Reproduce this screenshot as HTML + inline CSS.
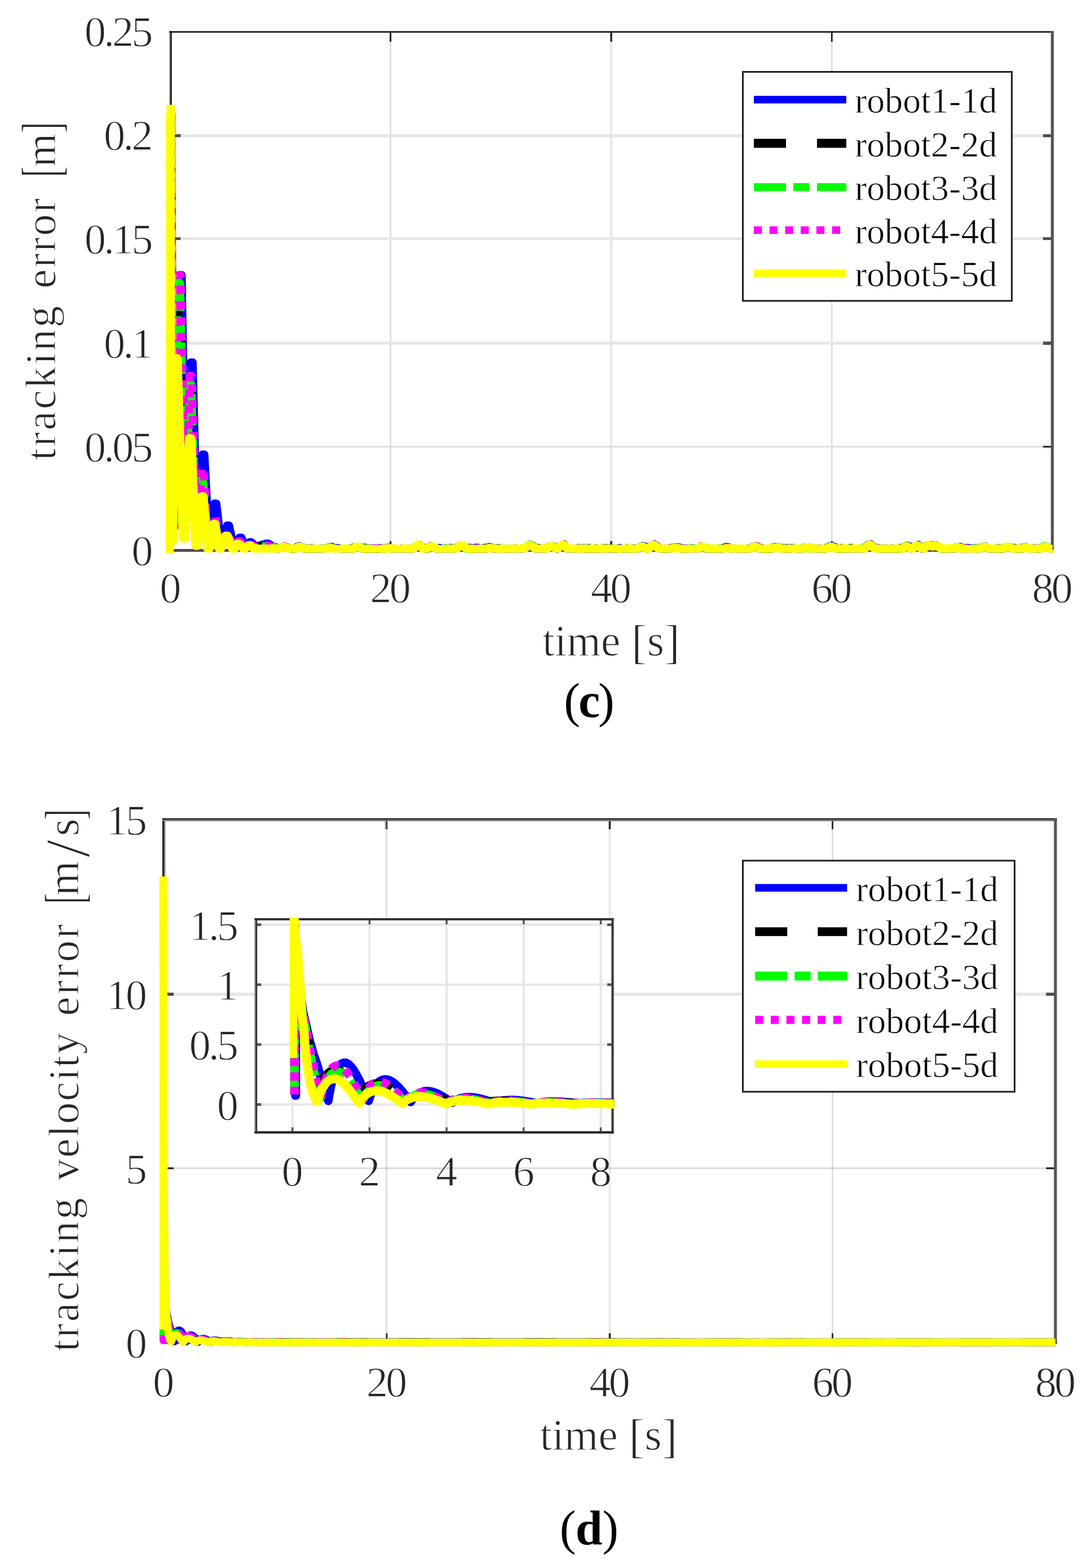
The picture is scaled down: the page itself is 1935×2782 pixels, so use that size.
<!DOCTYPE html>
<html lang="en"><head><meta charset="utf-8"><title>Tracking error figures</title>
<style>html,body{margin:0;padding:0;background:#fff}svg{display:block}</style></head>
<body>
<svg width="1935" height="2782" viewBox="0 0 1935 2782" font-family='"Liberation Serif", "DejaVu Serif", serif'>
<rect width="1935" height="2782" fill="#fff"/>
<g id="plot-c">
<line x1="692.6" y1="56.6" x2="692.6" y2="976.6" stroke="#dedede" stroke-width="3"/>
<line x1="1084" y1="56.6" x2="1084" y2="976.6" stroke="#e9e9e9" stroke-width="4.6"/>
<line x1="1475.3" y1="56.6" x2="1475.3" y2="976.6" stroke="#dedede" stroke-width="2.8"/>
<line x1="302.4" y1="792.6" x2="1866.4" y2="792.6" stroke="#dcdcdc" stroke-width="2.8"/>
<line x1="302.4" y1="608.9" x2="1866.4" y2="608.9" stroke="#e6e6e6" stroke-width="5.2"/>
<line x1="302.4" y1="423.4" x2="1866.4" y2="423.4" stroke="#e6e6e6" stroke-width="4.9"/>
<line x1="302.4" y1="240.8" x2="1866.4" y2="240.8" stroke="#e6e6e6" stroke-width="5.2"/>
<line x1="692.6" y1="56.6" x2="692.6" y2="74.1" stroke="#1a1a1a" stroke-width="3"/>
<line x1="692.6" y1="976.6" x2="692.6" y2="960.1" stroke="#1a1a1a" stroke-width="3"/>
<line x1="1084" y1="56.6" x2="1084" y2="74.1" stroke="#1a1a1a" stroke-width="3.2"/>
<line x1="1084" y1="976.6" x2="1084" y2="960.1" stroke="#1a1a1a" stroke-width="3.2"/>
<line x1="1475.3" y1="56.6" x2="1475.3" y2="74.1" stroke="#1a1a1a" stroke-width="2.8"/>
<line x1="1475.3" y1="976.6" x2="1475.3" y2="960.1" stroke="#1a1a1a" stroke-width="2.8"/>
<line x1="302.4" y1="792.6" x2="320.4" y2="792.6" stroke="#1a1a1a" stroke-width="2.8"/>
<line x1="1866.4" y1="792.6" x2="1849.9" y2="792.6" stroke="#1a1a1a" stroke-width="2.8"/>
<line x1="302.4" y1="608.9" x2="320.4" y2="608.9" stroke="#4d4d4d" stroke-width="5.8"/>
<line x1="1866.4" y1="608.9" x2="1849.9" y2="608.9" stroke="#4d4d4d" stroke-width="5.8"/>
<line x1="302.4" y1="423.4" x2="320.4" y2="423.4" stroke="#4d4d4d" stroke-width="4.9"/>
<line x1="1866.4" y1="423.4" x2="1849.9" y2="423.4" stroke="#4d4d4d" stroke-width="4.9"/>
<line x1="302.4" y1="240.8" x2="320.4" y2="240.8" stroke="#4d4d4d" stroke-width="5.3"/>
<line x1="1866.4" y1="240.8" x2="1849.9" y2="240.8" stroke="#4d4d4d" stroke-width="5.3"/>
<line x1="301" y1="55.2" x2="301" y2="979.1" stroke="#9a9a9a" stroke-width="2.0"/>
<line x1="303.4" y1="55.2" x2="303.4" y2="979.1" stroke="#1f1f1f" stroke-width="2.8"/>
<line x1="300" y1="56.6" x2="1869" y2="56.6" stroke="#1a1a1a" stroke-width="2.8"/>
<line x1="1866.4" y1="55.2" x2="1866.4" y2="979.2" stroke="#555" stroke-width="5.2"/>
<line x1="300" y1="976.6" x2="1869" y2="976.6" stroke="#4d4d4d" stroke-width="5.0"/>
<text x="302.4" y="1068.7" font-size="76.5" text-anchor="middle" fill="#262626" stroke="#fff" stroke-width="1.3">0</text>
<text x="690.6" y="1068.7" font-size="76.5" text-anchor="middle" fill="#262626" stroke="#fff" stroke-width="1.3" style="letter-spacing:-4px">20</text>
<text x="1082" y="1068.7" font-size="76.5" text-anchor="middle" fill="#262626" stroke="#fff" stroke-width="1.3" style="letter-spacing:-4px">40</text>
<text x="1473.3" y="1068.7" font-size="76.5" text-anchor="middle" fill="#262626" stroke="#fff" stroke-width="1.3" style="letter-spacing:-4px">60</text>
<text x="1864.4" y="1068.7" font-size="76.5" text-anchor="middle" fill="#262626" stroke="#fff" stroke-width="1.3" style="letter-spacing:-4px">80</text>
<text x="271.5" y="1002.5" font-size="76.5" text-anchor="end" fill="#262626" stroke="#fff" stroke-width="1.3">0</text>
<text x="267.5" y="818.5" font-size="76.5" text-anchor="end" fill="#262626" stroke="#fff" stroke-width="1.3" style="letter-spacing:-4px">0.05</text>
<text x="267.5" y="634.5" font-size="76.5" text-anchor="end" fill="#262626" stroke="#fff" stroke-width="1.3" style="letter-spacing:-4px">0.1</text>
<text x="267.5" y="450" font-size="76.5" text-anchor="end" fill="#262626" stroke="#fff" stroke-width="1.3" style="letter-spacing:-4px">0.15</text>
<text x="267.5" y="266.3" font-size="76.5" text-anchor="end" fill="#262626" stroke="#fff" stroke-width="1.3" style="letter-spacing:-4px">0.2</text>
<text x="267.5" y="82.1" font-size="76.5" text-anchor="end" fill="#262626" stroke="#fff" stroke-width="1.3" style="letter-spacing:-4px">0.25</text>
<text x="1084" y="1163" font-size="77.8" text-anchor="middle" fill="#262626" stroke="#fff" stroke-width="1.3">time <tspan font-size="84" dy="4.5">[</tspan><tspan font-size="77.8" dy="-4.5">s</tspan><tspan font-size="84" dy="4.5">]</tspan></text>
<text transform="translate(97.7,816.7) rotate(-90)" font-size="77" fill="#262626" stroke="#fff" stroke-width="1.3" textLength="274" lengthAdjust="spacing">tracking</text>
<text transform="translate(97.7,511.7) rotate(-90)" font-size="77" fill="#262626" stroke="#fff" stroke-width="1.3" textLength="160" lengthAdjust="spacing">error</text>
<text transform="translate(97.7,296.5) rotate(-90)" font-size="77" fill="#262626" stroke="#fff" stroke-width="1.3">m</text>
<text transform="translate(105.7,314.5) rotate(-90) scale(0.6,1)" font-size="97" fill="#262626" stroke="#fff" stroke-width="1.3">[</text>
<text transform="translate(105.7,236) rotate(-90) scale(0.6,1)" font-size="97" fill="#262626" stroke="#fff" stroke-width="1.3">]</text>
<text x="1043.5" y="1272" font-size="86" text-anchor="middle" fill="#000" letter-spacing="-3">(<tspan font-weight="bold">c</tspan>)</text>
<defs><clipPath id="cc"><rect x="293.4" y="54.6" width="1575.5" height="926"/></clipPath></defs>
<path d="M303 205 L308.9 932 L312.1 932 L318.9 488 L322.1 488 L329.4 912 L332.6 912 L338.4 643 L341.6 643 L349.4 945 L352.6 945 L359.2 806.5 L362.4 806.5 L370.4 958 L373.6 958 L380.4 893.5 L383.6 893.5 L391.9 965 L395.1 965 L402.9 932.5 L406.1 932.5 L414.4 969 L417.6 969 L424.9 954 L428.1 954 L434.4 969 L437.6 969 L442.4 962 L445.6 962 L453.4 969 L456.6 969 L472.4 964.5 L475.6 964.5 L484.4 970 L487.6 970 L492 973.9 L496 973 L500 970.9 L504 970.2 L508 970.3 L512 972.5 L516 973.4 L520 974.1 L524 972.6 L528 969.4 L532 969.6 L536 971.7 L540 972.4 L544 973.2 L548 974.6 L552 973 L556 972.8 L560 973.5 L564 974.5 L568 973.5 L572 973.7 L576 973.1 L580 972.7 L584 971.1 L588 970.3 L592 972.2 L596 972.6 L600 972.6 L604 973.1 L608 974.4 L612 973.5 L616 974.6 L620 973 L624 973 L628 970.9 L632 970.7 L636 971.2 L640 971 L644 972.3 L648 971.8 L652 974 L656 973.1 L660 972.9 L664 973.5 L668 973.5 L672 973.1 L676 972.4 L680 973.6 L684 972.7 L688 972 L692 971.4 L696 974.2 L700 974.9 L704 974.8 L708 975.1 L712 973.5 L716 973.5 L720 973.4 L724 974.5 L728 974 L732 973.6 L736 971.3 L740 968 L744 966.5 L748 971 L752 971.7 L756 973.7 L760 971.7 L764 969.9 L768 971 L772 972 L776 973.5 L780 972.1 L784 973.8 L788 973.1 L792 973 L796 973.1 L800 972 L804 973.9 L808 972.4 L812 971.4 L816 968.2 L820 968.3 L824 970.5 L828 972.3 L832 972 L836 972.7 L840 972.8 L844 971.8 L848 972 L852 973.6 L856 973 L860 971.9 L864 972.2 L868 970.6 L872 971.6 L876 973 L880 973 L884 972.8 L888 972.9 L892 973.2 L896 973.7 L900 974.4 L904 973.9 L908 973.9 L912 972.7 L916 972.9 L920 974 L924 973 L928 973.7 L932 972.5 L936 967.9 L940 966.4 L944 967.4 L948 971.4 L952 972.2 L956 972.3 L960 974 L964 973.2 L968 973.7 L972 971 L976 969.4 L980 968.9 L984 970.4 L988 973.5 L992 970.2 L996 967.4 L1000 966.6 L1004 970.3 L1008 974.6 L1012 973.4 L1016 974.3 L1020 973.9 L1024 972.6 L1028 972.7 L1032 973.7 L1036 972.3 L1040 974.3 L1044 972.2 L1048 973.6 L1052 973.8 L1056 972.7 L1060 973.4 L1064 973.8 L1068 973 L1072 972.6 L1076 972.7 L1080 973.5 L1084 973.7 L1088 972.8 L1092 974.2 L1096 972.8 L1100 972.5 L1104 973.6 L1108 974.4 L1112 972.6 L1116 974.6 L1120 972.9 L1124 973.7 L1128 973 L1132 973.7 L1136 969.9 L1140 968.7 L1144 969.6 L1148 972.1 L1152 970.5 L1156 968.8 L1160 965.9 L1164 968 L1168 971.7 L1172 972.9 L1176 974.2 L1180 972.9 L1184 973.8 L1188 972.7 L1192 971.9 L1196 971.6 L1200 971.2 L1204 971.2 L1208 972.6 L1212 973 L1216 973.3 L1220 974.2 L1224 972.8 L1228 972.9 L1232 974 L1236 973.4 L1240 972.8 L1244 969.1 L1248 970.6 L1252 972.5 L1256 972.7 L1260 974.1 L1264 974.7 L1268 973.9 L1272 973.4 L1276 974.1 L1280 974.1 L1284 972.3 L1288 970.9 L1292 971.6 L1296 972.6 L1300 973.9 L1304 973 L1308 974.2 L1312 974.3 L1316 974.4 L1320 974.3 L1324 974 L1328 973.4 L1332 972.2 L1336 970.1 L1340 969 L1344 969.8 L1348 973.7 L1352 972.7 L1356 974.1 L1360 974 L1364 974.6 L1368 974.2 L1372 971.3 L1376 970.2 L1380 971.1 L1384 972.3 L1388 972.4 L1392 972.6 L1396 972.5 L1400 973.3 L1404 972.3 L1408 972.7 L1412 973.1 L1416 974 L1420 974.5 L1424 972.3 L1428 971.9 L1432 972.3 L1436 971.5 L1440 973.3 L1444 972.9 L1448 973 L1452 974.1 L1456 973.2 L1460 974 L1464 973.5 L1468 971.7 L1472 969.4 L1476 969 L1480 970.3 L1484 972.6 L1488 973.7 L1492 972.3 L1496 973.8 L1500 973.7 L1504 973.3 L1508 972.3 L1512 972.8 L1516 974.3 L1520 974 L1524 973.4 L1528 973.7 L1532 972.1 L1536 969.8 L1540 966.4 L1544 965.6 L1548 968.6 L1552 971.9 L1556 973.5 L1560 972.7 L1564 973.8 L1568 974 L1572 973.1 L1576 973.4 L1580 973.2 L1584 972.9 L1588 974.2 L1592 974.4 L1596 972.7 L1600 971.9 L1604 970.1 L1608 968.1 L1612 968.8 L1616 973.5 L1620 972 L1624 968.3 L1628 966.5 L1632 969.7 L1636 974.3 L1640 971.6 L1644 967.2 L1648 967.1 L1652 966.9 L1656 968.9 L1660 967.6 L1664 969.9 L1668 971.8 L1672 974.4 L1676 974.2 L1680 974.2 L1684 973.3 L1688 974.7 L1692 973.7 L1696 971.2 L1700 970.9 L1704 971.3 L1708 972.9 L1712 972.5 L1716 972.1 L1720 973 L1724 973.4 L1728 972.9 L1732 972.7 L1736 972.9 L1740 972 L1744 970.4 L1748 969.5 L1752 971.9 L1756 974.2 L1760 974.2 L1764 974.8 L1768 974 L1772 972.7 L1776 974.2 L1780 972.1 L1784 970.8 L1788 970.6 L1792 970.9 L1796 972 L1800 972.2 L1804 973.2 L1808 974.4 L1812 971.9 L1816 972 L1820 970.7 L1824 972.7 L1828 973.4 L1832 973.3 L1836 972.8 L1840 973.9 L1844 973 L1848 971.8 L1852 969.4 L1856 970 L1860 971.7 L1864 972.6 L1866.4 972.8" fill="none" stroke="#0000ff" stroke-width="14.5" stroke-linejoin="round" stroke-linecap="butt" clip-path="url(#cc)"/>
<path d="M303 205 L307.1 932 L310.4 932 L315.4 518 L318.6 518 L327.6 912 L330.9 912 L334.9 691 L338.1 691 L347.6 945 L350.9 945 L355.7 854.5 L358.9 854.5 L368.6 958 L371.9 958 L376.9 941.5 L380.1 941.5 L390.1 965 L393.4 965 L399.4 958 L402.6 958 L412.6 969 L415.9 969 L421.4 966.6 L424.6 966.6 L432.6 969 L435.9 969 L438.9 969.8 L442.1 969.8 L451.6 969 L454.9 969 L468.9 970.8 L472.1 970.8 L482.6 970 L485.9 970 L492 972.9 L496 973.5 L500 971.1 L504 969.9 L508 970.7 L512 973.4 L516 973.7 L520 973.9 L524 972.9 L528 970.1 L532 969.3 L536 971 L540 973.9 L544 973.2 L548 974.8 L552 973.1 L556 973.4 L560 973.4 L564 975.1 L568 974.8 L572 975.1 L576 973.6 L580 971.7 L584 971.3 L588 971.7 L592 971.8 L596 974.9 L600 973.7 L604 973.5 L608 975.1 L612 973.7 L616 975.5 L620 974.1 L624 974.4 L628 972.1 L632 970.8 L636 970.4 L640 971.2 L644 974.1 L648 972.8 L652 974.7 L656 973.4 L660 975 L664 974.5 L668 974.3 L672 974.3 L676 973.8 L680 974.3 L684 972.4 L688 972.5 L692 973.2 L696 973.2 L700 975.5 L704 975.7 L708 974.4 L712 973.6 L716 974.2 L720 974.4 L724 975.8 L728 974.2 L732 973.3 L736 970 L740 968.2 L744 968.7 L748 970.8 L752 973.2 L756 974 L760 973.1 L764 969.4 L768 970.8 L772 972.6 L776 973.7 L780 972.8 L784 973.3 L788 974.1 L792 974.5 L796 973.6 L800 973.5 L804 973.5 L808 972.9 L812 971.5 L816 970.2 L820 969 L824 971.2 L828 974 L832 973.8 L836 974.6 L840 974.2 L844 973 L848 974.4 L852 974.7 L856 973.6 L860 973.8 L864 973.1 L868 971.6 L872 972 L876 974.5 L880 973.4 L884 973.1 L888 974.6 L892 974.6 L896 974.1 L900 974.8 L904 973.2 L908 974.1 L912 973.8 L916 973.8 L920 973.5 L924 972.9 L928 973.2 L932 973 L936 969.8 L940 967.7 L944 968.2 L948 971 L952 974.4 L956 973.3 L960 974.2 L964 973 L968 972.7 L972 972.3 L976 969.8 L980 970.2 L984 971.9 L988 973.7 L992 971.4 L996 967.8 L1000 966.4 L1004 970.8 L1008 973.8 L1012 974.4 L1016 972.8 L1020 974.3 L1024 974.6 L1028 972.7 L1032 973.7 L1036 973.9 L1040 974.6 L1044 973.8 L1048 973.1 L1052 973.9 L1056 974.3 L1060 974.6 L1064 973.4 L1068 973 L1072 972.7 L1076 973.1 L1080 973.6 L1084 972.7 L1088 974.3 L1092 974.3 L1096 972.7 L1100 973.5 L1104 973.1 L1108 974.1 L1112 973.4 L1116 973.7 L1120 973.1 L1124 973.4 L1128 974.4 L1132 973.3 L1136 969.9 L1140 970.2 L1144 971.8 L1148 973.9 L1152 972.4 L1156 967.6 L1160 967.3 L1164 968.4 L1168 973.2 L1172 973.4 L1176 974.6 L1180 973.9 L1184 974.4 L1188 973.1 L1192 972.2 L1196 972.4 L1200 971.3 L1204 973 L1208 972.9 L1212 973.7 L1216 973.8 L1220 975.2 L1224 972.9 L1228 973.4 L1232 974.1 L1236 974.8 L1240 973.7 L1244 970.1 L1248 971.5 L1252 973.3 L1256 974.1 L1260 973.4 L1264 975.1 L1268 975.3 L1272 973.9 L1276 973.4 L1280 974.6 L1284 971.8 L1288 970.5 L1292 970.9 L1296 973.3 L1300 974.6 L1304 973.3 L1308 974.4 L1312 973.3 L1316 974.9 L1320 974.6 L1324 974.8 L1328 974.2 L1332 972.5 L1336 970.4 L1340 968.7 L1344 970.8 L1348 972.9 L1352 974.3 L1356 974.4 L1360 974.8 L1364 974.2 L1368 973.4 L1372 972.2 L1376 971.2 L1380 970.9 L1384 973.4 L1388 972.9 L1392 973.5 L1396 973.7 L1400 974.6 L1404 974.4 L1408 974.7 L1412 974.8 L1416 975.1 L1420 974.9 L1424 973.5 L1428 972.5 L1432 972.9 L1436 972.2 L1440 974.3 L1444 973.2 L1448 973.9 L1452 974.4 L1456 974.7 L1460 975.1 L1464 972.4 L1468 971.9 L1472 970.2 L1476 969.9 L1480 970.5 L1484 973.9 L1488 973.5 L1492 973.2 L1496 974.7 L1500 974.1 L1504 973.5 L1508 972.8 L1512 974.8 L1516 974.4 L1520 973.2 L1524 973.1 L1528 973.8 L1532 973.6 L1536 970.3 L1540 967.9 L1544 965.8 L1548 968.9 L1552 973.6 L1556 972.7 L1560 974.1 L1564 973.6 L1568 974.1 L1572 973.8 L1576 974 L1580 974.9 L1584 973.7 L1588 973.7 L1592 974.3 L1596 973.5 L1600 972.6 L1604 970.2 L1608 968.2 L1612 969.6 L1616 974.1 L1620 970.8 L1624 969.3 L1628 968.7 L1632 971.2 L1636 973.2 L1640 971.8 L1644 966.9 L1648 966.9 L1652 968.7 L1656 968.5 L1660 966.4 L1664 969.9 L1668 972.3 L1672 974.1 L1676 974.5 L1680 975.2 L1684 974.2 L1688 973.5 L1692 973.8 L1696 973.1 L1700 971.3 L1704 970.8 L1708 972.9 L1712 973.1 L1716 973.2 L1720 972.5 L1724 974.5 L1728 974.2 L1732 974 L1736 974.6 L1740 970.8 L1744 970.6 L1748 969.7 L1752 973.5 L1756 975.1 L1760 974.9 L1764 973.9 L1768 972.8 L1772 974.7 L1776 974.2 L1780 973.9 L1784 971.1 L1788 971.1 L1792 971.7 L1796 972.6 L1800 973.3 L1804 973.4 L1808 974.5 L1812 974.2 L1816 971.2 L1820 970.5 L1824 972.4 L1828 974.2 L1832 973.3 L1836 973.3 L1840 972.8 L1844 972.6 L1848 971.9 L1852 970 L1856 970.2 L1860 971.9 L1864 973.1 L1866.4 974.8" fill="none" stroke="#000000" stroke-width="14.5" stroke-linejoin="round" stroke-linecap="butt" stroke-dasharray="56 55" stroke-dashoffset="30" clip-path="url(#cc)"/>
<path d="M303 205 L307.4 932 L310.6 932 L315.9 502 L319.1 502 L327.9 912 L331.1 912 L335.4 681 L338.6 681 L347.9 945 L351.1 945 L356.2 844.5 L359.4 844.5 L368.9 958 L372.1 958 L377.4 931.5 L380.6 931.5 L390.4 965 L393.6 965 L399.9 952.7 L403.1 952.7 L412.9 969 L416.1 969 L421.9 964 L425.1 964 L432.9 969 L436.1 969 L439.4 968.2 L442.6 968.2 L451.9 969 L455.1 969 L469.4 969.5 L472.6 969.5 L482.9 970 L486.1 970 L492 974.5 L496 972.4 L500 969.9 L504 970.9 L508 970.6 L512 972 L516 973.4 L520 973.6 L524 973.7 L528 970.1 L532 971.2 L536 970.9 L540 973.9 L544 975 L548 974.5 L552 974.5 L556 974.3 L560 973.4 L564 974.9 L568 974.5 L572 973.9 L576 972.8 L580 973.3 L584 971.8 L588 972.6 L592 973.1 L596 974.9 L600 974.1 L604 974.6 L608 974.7 L612 974 L616 975.6 L620 973.8 L624 974.9 L628 973.3 L632 971.1 L636 970.3 L640 972.7 L644 973.7 L648 972.7 L652 973.3 L656 974 L660 973.1 L664 974.6 L668 973.8 L672 973.8 L676 973.5 L680 974.2 L684 974 L688 972.2 L692 972.3 L696 974 L700 974.3 L704 975.1 L708 974.7 L712 973.7 L716 974.7 L720 974.7 L724 973.9 L728 975.4 L732 974 L736 970.7 L740 967.6 L744 968.6 L748 971.7 L752 973.2 L756 973.7 L760 971.8 L764 970.7 L768 970 L772 972.5 L776 973.2 L780 973.1 L784 973.7 L788 973.8 L792 972.7 L796 974 L800 973.9 L804 974.2 L808 973.1 L812 972.7 L816 968.7 L820 968.3 L824 972.1 L828 974.5 L832 973.4 L836 974.5 L840 973.3 L844 973.3 L848 973.6 L852 974.8 L856 973.9 L860 973 L864 973.5 L868 972.1 L872 972.2 L876 974.3 L880 974.7 L884 974.2 L888 974.8 L892 973.1 L896 974.1 L900 974.3 L904 973.8 L908 973.9 L912 974.6 L916 973.9 L920 973.7 L924 972.8 L928 974.4 L932 971.9 L936 968.1 L940 966.6 L944 967.8 L948 972.3 L952 972.8 L956 972.8 L960 972.9 L964 973.9 L968 972.7 L972 971.4 L976 969.7 L980 970.3 L984 972.3 L988 972.9 L992 971 L996 967.8 L1000 965.8 L1004 970.2 L1008 974.2 L1012 973.6 L1016 974.3 L1020 974.4 L1024 973.6 L1028 973.1 L1032 973 L1036 973.1 L1040 973 L1044 974 L1048 972.9 L1052 974.9 L1056 973.7 L1060 972.9 L1064 974.1 L1068 974 L1072 972.6 L1076 974 L1080 972.7 L1084 973.9 L1088 972.6 L1092 974.2 L1096 974.4 L1100 974.2 L1104 973 L1108 974.2 L1112 973.2 L1116 974 L1120 974.4 L1124 974.3 L1128 973 L1132 973 L1136 971.1 L1140 969.1 L1144 971.6 L1148 974.1 L1152 971.9 L1156 968.4 L1160 968.1 L1164 969.3 L1168 972.1 L1172 973.7 L1176 973.5 L1180 975.1 L1184 974 L1188 973.9 L1192 973.7 L1196 973.6 L1200 971.1 L1204 972 L1208 974.1 L1212 974.2 L1216 973.5 L1220 974.6 L1224 973.1 L1228 972.5 L1232 973.2 L1236 974 L1240 972.3 L1244 970.5 L1248 972 L1252 972.6 L1256 974.1 L1260 975 L1264 974.7 L1268 974.4 L1272 974.7 L1276 972.8 L1280 974.5 L1284 973 L1288 971.9 L1292 972.4 L1296 971.9 L1300 973.2 L1304 972.8 L1308 974.2 L1312 975.1 L1316 975.4 L1320 974.5 L1324 975 L1328 974.9 L1332 972.3 L1336 971.9 L1340 970.5 L1344 971.4 L1348 974.2 L1352 974.5 L1356 974.1 L1360 974 L1364 973.8 L1368 973.4 L1372 971.6 L1376 972 L1380 970.2 L1384 971.5 L1388 973.4 L1392 972.8 L1396 973.7 L1400 973.9 L1404 973 L1408 974.1 L1412 974.4 L1416 974.3 L1420 975.2 L1424 972.4 L1428 972.2 L1432 973.3 L1436 973.6 L1440 973.2 L1444 972.5 L1448 974.6 L1452 973.7 L1456 973.2 L1460 973.4 L1464 972.9 L1468 971.9 L1472 969.9 L1476 969.2 L1480 972.2 L1484 974.4 L1488 973.6 L1492 973.6 L1496 974.4 L1500 973.6 L1504 972.7 L1508 973.2 L1512 973.7 L1516 974.8 L1520 973.9 L1524 973.4 L1528 973.7 L1532 972.3 L1536 971.1 L1540 967.6 L1544 966.5 L1548 969.1 L1552 972.5 L1556 972.4 L1560 972.9 L1564 973.5 L1568 973.8 L1572 974.8 L1576 973.7 L1580 973.9 L1584 974.1 L1588 974.1 L1592 973.2 L1596 974.8 L1600 973.4 L1604 970 L1608 968.1 L1612 970.6 L1616 974.1 L1620 971.4 L1624 968.4 L1628 967.9 L1632 970.2 L1636 973.9 L1640 972.6 L1644 968 L1648 967.3 L1652 967.9 L1656 969.7 L1660 968 L1664 969.2 L1668 973.2 L1672 974.9 L1676 974.7 L1680 974.6 L1684 973.9 L1688 974.4 L1692 973 L1696 973 L1700 971 L1704 972.7 L1708 973.7 L1712 972.8 L1716 973 L1720 972.3 L1724 974.4 L1728 972.6 L1732 973.4 L1736 973.5 L1740 972.3 L1744 969.7 L1748 970.9 L1752 973.2 L1756 974.1 L1760 973.7 L1764 974.3 L1768 973.9 L1772 973.6 L1776 973 L1780 973.5 L1784 971.7 L1788 969.9 L1792 972.9 L1796 973.1 L1800 972.9 L1804 973 L1808 974 L1812 973.4 L1816 971.4 L1820 970.5 L1824 972.4 L1828 973.3 L1832 973.8 L1836 973.6 L1840 974.1 L1844 973.7 L1848 971.4 L1852 969 L1856 970.6 L1860 971.7 L1864 973.2 L1866.4 973" fill="none" stroke="#00ff00" stroke-width="14.5" stroke-linejoin="round" stroke-linecap="butt" stroke-dasharray="56 14 28 14" stroke-dashoffset="75" clip-path="url(#cc)"/>
<path d="M303 205 L307.9 932 L311.1 932 L316.9 488 L320.1 488 L328.4 912 L331.6 912 L336.4 667 L339.6 667 L348.4 945 L351.6 945 L357.2 830.5 L360.4 830.5 L369.4 958 L372.6 958 L378.4 917.5 L381.6 917.5 L390.9 965 L394.1 965 L400.9 945.2 L404.1 945.2 L413.4 969 L416.6 969 L422.9 960.3 L426.1 960.3 L433.4 969 L436.6 969 L440.4 965.9 L443.6 965.9 L452.4 969 L455.6 969 L470.4 967.6 L473.6 967.6 L483.4 970 L486.6 970 L492 974.4 L496 974 L500 971.6 L504 969.1 L508 971.4 L512 972.6 L516 973.2 L520 973.2 L524 972.3 L528 970.5 L532 969.7 L536 971.1 L540 972.7 L544 973.3 L548 974.6 L552 973.5 L556 973.9 L560 974.8 L564 973.9 L568 973.4 L572 974.9 L576 973.6 L580 972.9 L584 971.9 L588 972.6 L592 972.3 L596 974.5 L600 973.7 L604 974.3 L608 974.8 L612 974.1 L616 973.9 L620 974.1 L624 974.7 L628 972.5 L632 970.7 L636 971.3 L640 971.4 L644 972.7 L648 973 L652 974.8 L656 973.3 L660 973.3 L664 972.9 L668 972.9 L672 973.3 L676 973.8 L680 974.5 L684 972.8 L688 972.3 L692 972.1 L696 973.4 L700 975.2 L704 975 L708 974.1 L712 973.1 L716 974.9 L720 975.1 L724 975.4 L728 973.9 L732 974.4 L736 971.6 L740 968 L744 968.6 L748 970.1 L752 974.1 L756 973 L760 972.4 L764 969 L768 971.2 L772 972.8 L776 974.4 L780 974.1 L784 974.9 L788 974.5 L792 974.6 L796 974.4 L800 973 L804 974.8 L808 973.4 L812 971.7 L816 968.7 L820 968.4 L824 970.8 L828 974.5 L832 974.4 L836 973.2 L840 972.5 L844 973.3 L848 972.8 L852 973.9 L856 974.1 L860 972.6 L864 972.9 L868 972.7 L872 972.4 L876 973.4 L880 974.8 L884 974.6 L888 974.7 L892 974.5 L896 973.9 L900 974.5 L904 974.8 L908 974.8 L912 973.7 L916 973.6 L920 974 L924 974.3 L928 973.6 L932 972.3 L936 969.5 L940 966.4 L944 968.5 L948 971.2 L952 973.6 L956 974 L960 973.2 L964 974.9 L968 972.5 L972 971.8 L976 969.3 L980 968.9 L984 971.8 L988 973.8 L992 971.2 L996 967.5 L1000 965.7 L1004 970.5 L1008 974.8 L1012 973.1 L1016 974.6 L1020 973.4 L1024 974.1 L1028 973 L1032 973.4 L1036 973.4 L1040 973 L1044 974 L1048 973.6 L1052 974.5 L1056 973.5 L1060 973.9 L1064 974.2 L1068 973.4 L1072 974.3 L1076 973.2 L1080 974.4 L1084 974.1 L1088 973.6 L1092 974.5 L1096 973.8 L1100 973.7 L1104 973.1 L1108 973.7 L1112 973.6 L1116 973.9 L1120 974.6 L1124 973.3 L1128 973.7 L1132 973.1 L1136 971.4 L1140 969.7 L1144 971.1 L1148 972.8 L1152 971.4 L1156 967.8 L1160 966.8 L1164 968.8 L1168 973.4 L1172 974.1 L1176 973.4 L1180 974.3 L1184 973.2 L1188 973.6 L1192 973 L1196 973.3 L1200 971.2 L1204 972.9 L1208 972.8 L1212 974.6 L1216 974 L1220 973.4 L1224 974.3 L1228 972.7 L1232 973.8 L1236 973.6 L1240 973.5 L1244 969.6 L1248 971.5 L1252 973.1 L1256 974.3 L1260 973.8 L1264 973.6 L1268 975.2 L1272 974.5 L1276 973.1 L1280 974.6 L1284 973.4 L1288 970.7 L1292 970.8 L1296 972.9 L1300 973.3 L1304 973.9 L1308 974.1 L1312 974.7 L1316 974.7 L1320 975.3 L1324 975.4 L1328 974.6 L1332 972.8 L1336 970.6 L1340 968.9 L1344 970.1 L1348 974.1 L1352 973.3 L1356 973.7 L1360 974 L1364 974.5 L1368 974 L1372 973.2 L1376 971.1 L1380 970.4 L1384 972.7 L1388 974.2 L1392 974.4 L1396 973.4 L1400 975 L1404 974.6 L1408 975.1 L1412 973.8 L1416 974.3 L1420 975.1 L1424 973.5 L1428 971.2 L1432 972.3 L1436 973.2 L1440 973.9 L1444 973.5 L1448 973.1 L1452 973.5 L1456 972.9 L1460 973.8 L1464 973.3 L1468 972.9 L1472 970.8 L1476 969.9 L1480 970.7 L1484 973.4 L1488 974.7 L1492 973.5 L1496 973.1 L1500 974.3 L1504 973.7 L1508 974.5 L1512 974 L1516 974.2 L1520 973.6 L1524 973.7 L1528 974.3 L1532 974.2 L1536 971.1 L1540 966.9 L1544 965.3 L1548 970 L1552 972.7 L1556 973.2 L1560 972.9 L1564 973.2 L1568 973.7 L1572 975.2 L1576 974.7 L1580 974.4 L1584 974.1 L1588 973.4 L1592 973.5 L1596 974.1 L1600 972.4 L1604 970.6 L1608 968.7 L1612 970.4 L1616 972.5 L1620 970.9 L1624 968.6 L1628 967.1 L1632 971.1 L1636 973.7 L1640 972 L1644 968.4 L1648 966.9 L1652 968.4 L1656 968.4 L1660 967.1 L1664 970.8 L1668 972.7 L1672 974.1 L1676 974.5 L1680 974.5 L1684 975 L1688 973.8 L1692 974.2 L1696 971.5 L1700 971.9 L1704 971.9 L1708 974.3 L1712 972.6 L1716 973.5 L1720 973.9 L1724 974.3 L1728 972.8 L1732 974 L1736 974.8 L1740 971 L1744 971.1 L1748 969.7 L1752 971.9 L1756 975.2 L1760 974.8 L1764 975.4 L1768 973.9 L1772 974.1 L1776 973.6 L1780 973.8 L1784 972.1 L1788 970.8 L1792 972.8 L1796 972.5 L1800 974 L1804 974.3 L1808 973.4 L1812 974.1 L1816 971.4 L1820 970.8 L1824 971.5 L1828 974.1 L1832 973.2 L1836 974.7 L1840 972.7 L1844 974.2 L1848 972.5 L1852 969.7 L1856 970.1 L1860 973.2 L1864 974.2 L1866.4 973.2" fill="none" stroke="#ff00ff" stroke-width="14.5" stroke-linejoin="round" stroke-linecap="butt" stroke-dasharray="14 14" stroke-dashoffset="8" clip-path="url(#cc)"/>
<path d="M310.7 200 L311.7 628" fill="none" stroke="#ffa060" stroke-width="2.4" stroke-dasharray="13 13" clip-path="url(#cc)"/>
<path d="M301.0 982 L302.9 186" fill="none" stroke="#ffff00" stroke-width="14.4"/>
<path d="M302 200 L302.9 962 L306.1 962 L311.4 636 L314.6 636 L324.7 955 L327.9 955 L335.9 778 L339.1 778 L346.9 968 L350.1 968 L357.4 881 L360.6 881 L368.2 973 L371.4 973 L378.4 930 L381.6 930 L388.4 973 L391.6 973 L400.4 951 L403.6 951 L412.4 974 L415.6 974 L421.4 965 L424.6 965 L431.4 973 L434.6 973 L440.4 968 L443.6 968 L450.4 973 L453.6 973 L458 973.7 L462 973.9 L466 973.8 L470 974 L474 974.2 L478 973.6 L482 973.2 L486 974 L490 973.7 L494 973.5 L498 972.6 L502 970.5 L506 970.8 L510 972.5 L514 974.2 L518 973.7 L522 973.9 L526 972.7 L530 970.6 L534 970.7 L538 972.7 L542 973.6 L546 974.2 L550 974.2 L554 973.9 L558 973.4 L562 974.1 L566 974 L570 974.3 L574 974.6 L578 973.8 L582 972.7 L586 971.8 L590 973.1 L594 974 L598 974.6 L602 974.8 L606 973.9 L610 973.5 L614 973.4 L618 974.3 L622 974.1 L626 973.5 L630 971 L634 969.9 L638 971 L642 973 L646 974 L650 974.1 L654 974.5 L658 974.5 L662 974.8 L666 974.8 L670 975 L674 974.7 L678 973.9 L682 974.1 L686 973.3 L690 972.9 L694 973.1 L698 974.2 L702 973.9 L706 974.4 L710 974.3 L714 973.9 L718 973.4 L722 974.1 L726 974.7 L730 973.8 L734 973.1 L738 969.1 L742 966.6 L746 968.6 L750 972.9 L754 974.5 L758 972.8 L762 971 L766 969.5 L770 971.4 L774 973.3 L778 974.4 L782 974.8 L786 974.4 L790 974.8 L794 974.2 L798 973.6 L802 973.9 L806 973.4 L810 972.8 L814 970 L818 968 L822 968.7 L826 971.6 L830 974.1 L834 973.8 L838 974.5 L842 974.7 L846 974.2 L850 974.1 L854 974.1 L858 974.2 L862 973.9 L866 972.8 L870 972.2 L874 973.2 L878 974 L882 974.1 L886 974.3 L890 973.8 L894 973.7 L898 974.4 L902 974.2 L906 974.2 L910 973.5 L914 973.6 L918 973.9 L922 973.4 L926 973.8 L930 973.2 L934 969.8 L938 967.4 L942 967.5 L946 970.7 L950 972.8 L954 974.2 L958 974.4 L962 973.6 L966 973.3 L970 973 L974 970.9 L978 968.9 L982 970.4 L986 973.2 L990 972.6 L994 968.8 L998 966.6 L1002 968.7 L1006 972.7 L1010 973.7 L1014 973.7 L1018 974.2 L1022 973.5 L1026 973.8 L1030 974.2 L1034 973.9 L1038 973.6 L1042 974.2 L1046 973.8 L1050 973.5 L1054 973.7 L1058 974.1 L1062 973.6 L1066 973.6 L1070 973.6 L1074 974.2 L1078 974 L1082 974.4 L1086 973.8 L1090 973.7 L1094 974 L1098 974.5 L1102 974.2 L1106 973.8 L1110 973.4 L1114 973.7 L1118 973.5 L1122 974.1 L1126 974.5 L1130 973.5 L1134 971.4 L1138 970.3 L1142 971 L1146 973.3 L1150 973.7 L1154 970.1 L1158 966.9 L1162 968 L1166 971.3 L1170 973.7 L1174 973.8 L1178 973.8 L1182 973.8 L1186 974.4 L1190 973.7 L1194 972.4 L1198 972.3 L1202 972.7 L1206 974 L1210 974.3 L1214 974.7 L1218 974.9 L1222 974.1 L1226 974.3 L1230 974.6 L1234 974.5 L1238 973.4 L1242 970.8 L1246 969.8 L1250 970.9 L1254 972.7 L1258 973.7 L1262 973.6 L1266 974.2 L1270 973.5 L1274 974.3 L1278 974.4 L1282 974.3 L1286 973.4 L1290 972.9 L1294 973.1 L1298 973.3 L1302 974.1 L1306 973.7 L1310 973.6 L1314 974 L1318 974 L1322 973.9 L1326 974.5 L1330 974.2 L1334 972 L1338 969.9 L1342 970.8 L1346 972.7 L1350 974.4 L1354 974 L1358 973.6 L1362 973.9 L1366 974.3 L1370 973.4 L1374 972.1 L1378 971.2 L1382 971.9 L1386 973.8 L1390 973.8 L1394 974 L1398 974.5 L1402 973.7 L1406 973.6 L1410 973.5 L1414 973.8 L1418 973.8 L1422 973.5 L1426 972.9 L1430 971.5 L1434 971.8 L1438 972.8 L1442 973.1 L1446 973 L1450 974.1 L1454 974.5 L1458 973.7 L1462 973.9 L1466 973.5 L1470 971.9 L1474 970.7 L1478 971.5 L1482 973.2 L1486 973.9 L1490 973.6 L1494 973.6 L1498 973.3 L1502 973.7 L1506 974.1 L1510 973.9 L1514 973.5 L1518 973.3 L1522 973.5 L1526 973.9 L1530 974.3 L1534 973 L1538 969.2 L1542 966.4 L1546 967.9 L1550 972.1 L1554 973.9 L1558 974.2 L1562 974 L1566 974.2 L1570 974.1 L1574 973.7 L1578 973.9 L1582 974.2 L1586 973.6 L1590 973.7 L1594 973.8 L1598 974.2 L1602 972.5 L1606 969.6 L1610 970 L1614 972.5 L1618 973.5 L1622 970.5 L1626 967.7 L1630 969.2 L1634 972.5 L1638 974 L1642 970.1 L1646 966.7 L1650 967.8 L1654 969.4 L1658 968.2 L1662 968.4 L1666 970.8 L1670 973.1 L1674 974 L1678 973.4 L1682 973.2 L1686 973.1 L1690 974 L1694 972.8 L1698 971.4 L1702 972.2 L1706 972.7 L1710 974.2 L1714 974.3 L1718 974.6 L1722 974.8 L1726 974.5 L1730 974.6 L1734 973.7 L1738 973.5 L1742 971.3 L1746 970.3 L1750 970.9 L1754 973.5 L1758 974.6 L1762 973.8 L1766 973.7 L1770 973.9 L1774 974.4 L1778 973.8 L1782 972 L1786 970.3 L1790 970.7 L1794 972.7 L1798 973.9 L1802 973.8 L1806 973.8 L1810 973.7 L1814 972.9 L1818 971.5 L1822 971.8 L1826 973.6 L1830 974.1 L1834 974.3 L1838 973.8 L1842 974.1 L1846 973.7 L1850 971.6 L1854 970.2 L1858 971.3 L1862 973.5 L1866 974.6 L1866.4 974" fill="none" stroke="#ffff00" stroke-width="15.5" stroke-linejoin="round" stroke-linecap="butt" clip-path="url(#cc)"/>
<rect x="1317.5" y="127.5" width="477" height="406.3" fill="#fff" stroke="#1f1f1f" stroke-width="3"/>
<line x1="1337" y1="176.7" x2="1501" y2="176.7" stroke="#0000ff" stroke-width="13.5"/>
<text x="1516" y="200.2" font-size="64" text-anchor="start" fill="#000" stroke="#fff" stroke-width="0.9">robot1-1d</text>
<line x1="1337" y1="254.3" x2="1394" y2="254.3" stroke="#000000" stroke-width="16"/>
<line x1="1449" y1="254.3" x2="1501" y2="254.3" stroke="#000000" stroke-width="16"/>
<text x="1516" y="277.8" font-size="64" text-anchor="start" fill="#000" stroke="#fff" stroke-width="0.9">robot2-2d</text>
<line x1="1337" y1="331.9" x2="1394" y2="331.9" stroke="#00ff00" stroke-width="14"/>
<line x1="1407" y1="331.9" x2="1435.5" y2="331.9" stroke="#00ff00" stroke-width="14"/>
<line x1="1449" y1="331.9" x2="1501" y2="331.9" stroke="#00ff00" stroke-width="14"/>
<text x="1516" y="355.4" font-size="64" text-anchor="start" fill="#000" stroke="#fff" stroke-width="0.9">robot3-3d</text>
<line x1="1337" y1="408.3" x2="1351.2" y2="408.3" stroke="#ff00ff" stroke-width="13.5"/>
<line x1="1364.8" y1="408.3" x2="1379" y2="408.3" stroke="#ff00ff" stroke-width="13.5"/>
<line x1="1392.5" y1="408.3" x2="1406.7" y2="408.3" stroke="#ff00ff" stroke-width="13.5"/>
<line x1="1420.2" y1="408.3" x2="1434.5" y2="408.3" stroke="#ff00ff" stroke-width="13.5"/>
<line x1="1448" y1="408.3" x2="1462.2" y2="408.3" stroke="#ff00ff" stroke-width="13.5"/>
<line x1="1475.8" y1="408.3" x2="1490" y2="408.3" stroke="#ff00ff" stroke-width="13.5"/>
<text x="1516" y="431.8" font-size="64" text-anchor="start" fill="#000" stroke="#fff" stroke-width="0.9">robot4-4d</text>
<line x1="1337" y1="484.8" x2="1501" y2="484.8" stroke="#ffff00" stroke-width="13.8"/>
<text x="1516" y="508.3" font-size="64" text-anchor="start" fill="#000" stroke="#fff" stroke-width="0.9">robot5-5d</text>
</g>
<g id="plot-d">
<line x1="685.9" y1="1454.3" x2="685.9" y2="2030" stroke="#dedede" stroke-width="2.6"/>
<line x1="685.9" y1="2125" x2="685.9" y2="2382" stroke="#dedede" stroke-width="2.6"/>
<line x1="1081.4" y1="1454.3" x2="1081.4" y2="2030" stroke="#e9e9e9" stroke-width="4.6"/>
<line x1="1081.4" y1="2125" x2="1081.4" y2="2382" stroke="#e9e9e9" stroke-width="4.6"/>
<line x1="1476.5" y1="1454.3" x2="1476.5" y2="2030" stroke="#dedede" stroke-width="2.7"/>
<line x1="1476.5" y1="2125" x2="1476.5" y2="2382" stroke="#dedede" stroke-width="2.7"/>
<line x1="290" y1="2072.8" x2="310" y2="2072.8" stroke="#dcdcdc" stroke-width="3.1"/>
<line x1="1110" y1="2072.8" x2="1871.9" y2="2072.8" stroke="#dcdcdc" stroke-width="3.1"/>
<line x1="290" y1="1764" x2="310" y2="1764" stroke="#e6e6e6" stroke-width="5.5"/>
<line x1="440" y1="1764" x2="1871.9" y2="1764" stroke="#e6e6e6" stroke-width="5.5"/>
<line x1="683.5" y1="1454.3" x2="683.5" y2="2382" stroke="#f2f2f2" stroke-width="2.4"/>
<line x1="685.9" y1="1454.3" x2="685.9" y2="1471.3" stroke="#1f1f1f" stroke-width="2.6"/>
<line x1="685.9" y1="2382" x2="685.9" y2="2365.5" stroke="#1f1f1f" stroke-width="2.6"/>
<line x1="1081.4" y1="1454.3" x2="1081.4" y2="1471.3" stroke="#1f1f1f" stroke-width="3.2"/>
<line x1="1081.4" y1="2382" x2="1081.4" y2="2365.5" stroke="#1f1f1f" stroke-width="3.2"/>
<line x1="1476.5" y1="1454.3" x2="1476.5" y2="1471.3" stroke="#1f1f1f" stroke-width="2.7"/>
<line x1="1476.5" y1="2382" x2="1476.5" y2="2365.5" stroke="#1f1f1f" stroke-width="2.7"/>
<line x1="683.5" y1="1454.3" x2="683.5" y2="1471.3" stroke="#aaa" stroke-width="2.4"/>
<line x1="290" y1="2072.8" x2="308" y2="2072.8" stroke="#1a1a1a" stroke-width="3.1"/>
<line x1="1871.9" y1="2072.8" x2="1855.4" y2="2072.8" stroke="#1a1a1a" stroke-width="3.1"/>
<line x1="290" y1="1764" x2="308" y2="1764" stroke="#4d4d4d" stroke-width="5.5"/>
<line x1="1871.9" y1="1764" x2="1855.4" y2="1764" stroke="#4d4d4d" stroke-width="5.5"/>
<line x1="289.8" y1="1451.8" x2="289.8" y2="2384.5" stroke="#1f1f1f" stroke-width="3.8"/>
<line x1="292.8" y1="1451.8" x2="292.8" y2="2384.5" stroke="#aaa" stroke-width="2.2"/>
<line x1="287.9" y1="1453.1" x2="1874.5" y2="1453.1" stroke="#222" stroke-width="2.6"/>
<line x1="287.9" y1="1455.7" x2="1874.5" y2="1455.7" stroke="#777" stroke-width="2.5"/>
<line x1="1871.9" y1="1451.8" x2="1871.9" y2="2384.5" stroke="#555" stroke-width="5.2"/>
<line x1="287.9" y1="2382" x2="1874.5" y2="2382" stroke="#4d4d4d" stroke-width="5.0"/>
<text x="290" y="2477.7" font-size="76.5" text-anchor="middle" fill="#262626" stroke="#fff" stroke-width="1.3">0</text>
<text x="683.9" y="2477.7" font-size="76.5" text-anchor="middle" fill="#262626" stroke="#fff" stroke-width="1.3" style="letter-spacing:-4px">20</text>
<text x="1079.4" y="2477.7" font-size="76.5" text-anchor="middle" fill="#262626" stroke="#fff" stroke-width="1.3" style="letter-spacing:-4px">40</text>
<text x="1474.5" y="2477.7" font-size="76.5" text-anchor="middle" fill="#262626" stroke="#fff" stroke-width="1.3" style="letter-spacing:-4px">60</text>
<text x="1869.9" y="2477.7" font-size="76.5" text-anchor="middle" fill="#262626" stroke="#fff" stroke-width="1.3" style="letter-spacing:-4px">80</text>
<text x="261" y="2409" font-size="76.5" text-anchor="end" fill="#262626" stroke="#fff" stroke-width="1.3">0</text>
<text x="261" y="2099.8" font-size="76.5" text-anchor="end" fill="#262626" stroke="#fff" stroke-width="1.3">5</text>
<text x="257" y="1791" font-size="76.5" text-anchor="end" fill="#262626" stroke="#fff" stroke-width="1.3" style="letter-spacing:-4px">10</text>
<text x="257" y="1481.3" font-size="76.5" text-anchor="end" fill="#262626" stroke="#fff" stroke-width="1.3" style="letter-spacing:-4px">15</text>
<text x="1079.5" y="2572" font-size="77.8" text-anchor="middle" fill="#262626" stroke="#fff" stroke-width="1.3">time <tspan font-size="84" dy="4.5">[</tspan><tspan font-size="77.8" dy="-4.5">s</tspan><tspan font-size="84" dy="4.5">]</tspan></text>
<text transform="translate(138.8,2398) rotate(-90)" font-size="77" fill="#262626" stroke="#fff" stroke-width="1.3" textLength="272.7" lengthAdjust="spacing">tracking</text>
<text transform="translate(138.8,2094.7) rotate(-90)" font-size="77" fill="#262626" stroke="#fff" stroke-width="1.3" textLength="262.7" lengthAdjust="spacing">velocity</text>
<text transform="translate(138.8,1802.6) rotate(-90)" font-size="77" fill="#262626" stroke="#fff" stroke-width="1.3" textLength="163" lengthAdjust="spacing">error</text>
<text transform="translate(138.8,1589.5) rotate(-90)" font-size="80" fill="#262626" stroke="#fff" stroke-width="1.3">m</text>
<text transform="translate(157.8,1521) rotate(-90)" font-size="112" fill="#262626" stroke="#fff" stroke-width="1.3">/</text>
<text transform="translate(138.8,1483.5) rotate(-90)" font-size="80" fill="#262626" stroke="#fff" stroke-width="1.3">s</text>
<text transform="translate(146.8,1604) rotate(-90) scale(0.6,1)" font-size="97" fill="#262626" stroke="#fff" stroke-width="1.3">[</text>
<text transform="translate(146.8,1455) rotate(-90) scale(0.6,1)" font-size="97" fill="#262626" stroke="#fff" stroke-width="1.3">]</text>
<text x="1044.5" y="2740" font-size="86" text-anchor="middle" fill="#000" letter-spacing="-0.5">(<tspan font-weight="bold">d</tspan>)</text>
<defs><clipPath id="cd"><rect x="281" y="1452.3" width="1593.4" height="939.7"/></clipPath></defs>
<path d="M290 2359 L290 2378 L291 2170 L292.6 2301.6 L294.2 2320.2 L296.3 2334.4 L299.7 2349.2 L301.7 2356.2 L303.3 2360.7 L304.6 2365.3 L306.6 2374.6 L309.2 2380.1 L310.5 2372.8 L311.8 2368.2 L313.1 2364.9 L314.4 2362.5 L315.7 2361.1 L317 2360.4 L318.3 2360.5 L319.6 2361.1 L320.9 2362.4 L322.2 2364.1 L323.5 2366.2 L324.8 2368.7 L326.1 2371.4 L327.4 2374.2 L328.7 2377.2 L330 2380.1 L331.3 2375.9 L332.6 2373.4 L334 2371.5 L335.3 2370.2 L336.7 2369.4 L338 2369 L339.4 2369.1 L340.7 2369.5 L342.1 2370.3 L343.4 2371.3 L344.8 2372.6 L346.1 2374 L347.5 2375.6 L348.8 2377.3 L350.2 2379 L351.5 2380.8 L352.8 2378.6 L354.2 2377.3 L355.5 2376.3 L356.8 2375.7 L358.2 2375.3 L359.5 2375.1 L360.8 2375.1 L362.2 2375.3 L363.5 2375.7 L364.9 2376.2 L366.2 2376.9 L367.5 2377.6 L368.9 2378.4 L370.2 2379.3 L371.5 2380.2 L372.9 2381.1 L374.2 2380 L375.6 2379.3 L376.9 2378.8 L378.3 2378.5 L379.7 2378.3 L381 2378.2 L382.4 2378.2 L383.7 2378.3 L385.1 2378.5 L386.5 2378.8 L387.8 2379.1 L389.2 2379.5 L390.5 2379.9 L391.9 2380.3 L393.3 2380.8 L394.6 2381.3 L396 2380.6 L397.3 2380.3 L398.7 2380 L400 2379.8 L401.4 2379.7 L402.8 2379.7 L404.1 2379.7 L405.5 2379.7 L406.8 2379.8 L408.2 2380 L409.6 2380.2 L410.9 2380.4 L412.3 2380.6 L413.6 2380.9 L415 2381.1 L416.4 2381.4 L417.7 2381.1 L419.1 2380.9 L420.4 2380.7 L421.8 2380.6 L423.2 2380.5 L424.5 2380.5 L425.9 2380.5 L427.2 2380.6 L428.6 2380.6 L430 2380.7 L431.3 2380.8 L432.7 2380.9 L434 2381 L435.4 2381.1 L436.8 2381.3 L438.1 2381.4 L439.4 2381.2 L440.7 2381.2 L442 2381.1 L443.3 2381.1 L444.6 2381 L445.9 2381 L447.2 2381 L448.5 2381 L449.8 2381 L451.1 2381.1 L452.4 2381.1 L453.7 2381.2 L455 2381.2 L456.3 2381.3 L457.6 2381.3 L458.9 2381.4 L1871.9 2381.7" fill="none" stroke="#0000ff" stroke-width="13.8" stroke-linejoin="round" stroke-linecap="butt" clip-path="url(#cd)"/>
<path d="M290 2359 L290 2378 L291 2170 L292.6 2301.6 L294.2 2320.2 L295.9 2334.4 L297.7 2343 L299.3 2351.1 L300.9 2359.7 L302.9 2367.2 L305.3 2372.4 L306.6 2369 L307.9 2367.1 L309.2 2365.7 L310.5 2364.8 L311.8 2364.4 L313.1 2364.3 L314.4 2364.6 L315.7 2365.2 L317 2366.1 L318.2 2367.2 L319.5 2368.5 L320.8 2370 L322.1 2371.6 L323.4 2373.3 L324.7 2375 L326 2376.7 L327.4 2374.5 L328.7 2373.2 L330.1 2372.3 L331.5 2371.6 L332.9 2371.3 L334.2 2371.2 L335.6 2371.3 L337 2371.6 L338.3 2372.1 L339.7 2372.7 L341.1 2373.5 L342.5 2374.3 L343.8 2375.3 L345.2 2376.2 L346.6 2377.3 L347.9 2378.3 L349.3 2377.3 L350.6 2376.7 L352 2376.3 L353.3 2376 L354.7 2375.9 L356 2375.9 L357.4 2376 L358.7 2376.2 L360.1 2376.5 L361.4 2376.9 L362.8 2377.3 L364.1 2377.7 L365.5 2378.2 L366.8 2378.8 L368.2 2379.3 L369.5 2379.8 L370.9 2379.3 L372.2 2379 L373.6 2378.8 L374.9 2378.7 L376.3 2378.6 L377.7 2378.6 L379 2378.6 L380.4 2378.7 L381.7 2378.9 L383.1 2379.1 L384.5 2379.3 L385.8 2379.5 L387.2 2379.8 L388.5 2380.1 L389.9 2380.4 L391.3 2380.6 L392.6 2380.4 L394 2380.2 L395.3 2380.1 L396.7 2380 L398 2380 L399.4 2380 L400.8 2380 L402.1 2380.1 L403.5 2380.2 L404.8 2380.3 L406.2 2380.4 L407.6 2380.5 L408.9 2380.6 L410.3 2380.8 L411.6 2380.9 L413 2381.1 L414.4 2380.9 L415.7 2380.9 L417.1 2380.8 L418.4 2380.8 L419.8 2380.8 L421.2 2380.8 L422.5 2380.8 L423.9 2380.8 L425.2 2380.8 L426.6 2380.9 L428 2380.9 L429.3 2381 L430.7 2381.1 L432 2381.1 L433.4 2381.2 L434.8 2381.3 L436.1 2381.2 L437.5 2381.2 L438.9 2381.1 L440.3 2381.1 L441.7 2381.1 L443.1 2381.1 L444.4 2381.1 L445.8 2381.2 L447.2 2381.2 L448.6 2381.2 L450 2381.2 L451.4 2381.3 L452.7 2381.3 L454.1 2381.3 L455.5 2381.3 L456.9 2381.4 L1871.9 2381.7" fill="none" stroke="#000000" stroke-width="13.8" stroke-linejoin="round" stroke-linecap="butt" stroke-dasharray="56 55" stroke-dashoffset="40" clip-path="url(#cd)"/>
<path d="M290 2359 L290 2378 L291 2170 L292.6 2301.6 L294.2 2320.2 L295.9 2334.4 L297.5 2342.4 L299.1 2351.1 L300.7 2359.7 L302.1 2366.5 L303.7 2373.3 L305.4 2378.3 L306.8 2373.2 L308.1 2370.1 L309.4 2367.8 L310.8 2366.3 L312.1 2365.3 L313.4 2365 L314.8 2365.1 L316.1 2365.7 L317.4 2366.7 L318.8 2368.1 L320.1 2369.7 L321.4 2371.6 L322.8 2373.6 L324.1 2375.7 L325.5 2377.9 L326.8 2380.1 L328.2 2377.1 L329.6 2375.2 L330.9 2373.9 L332.3 2372.9 L333.7 2372.4 L335.1 2372.1 L336.5 2372.2 L337.9 2372.5 L339.2 2373.1 L340.6 2373.8 L342 2374.8 L343.4 2375.8 L344.8 2377 L346.2 2378.2 L347.6 2379.5 L348.9 2380.8 L350.3 2379.2 L351.7 2378.2 L353.1 2377.5 L354.4 2377 L355.8 2376.7 L357.2 2376.6 L358.5 2376.6 L359.9 2376.8 L361.3 2377.1 L362.7 2377.5 L364 2378 L365.4 2378.6 L366.8 2379.2 L368.1 2379.9 L369.5 2380.6 L370.9 2381.3 L372.2 2380.4 L373.6 2379.9 L375 2379.5 L376.3 2379.3 L377.7 2379.1 L379 2379 L380.4 2379 L381.8 2379.1 L383.1 2379.3 L384.5 2379.5 L385.8 2379.7 L387.2 2380 L388.6 2380.4 L389.9 2380.7 L391.3 2381 L392.6 2381.4 L394 2381 L395.4 2380.7 L396.7 2380.5 L398.1 2380.4 L399.4 2380.3 L400.8 2380.3 L402.2 2380.3 L403.5 2380.3 L404.9 2380.4 L406.2 2380.5 L407.6 2380.7 L408.9 2380.8 L410.3 2381 L411.7 2381.1 L413 2381.3 L414.4 2381.5 L415.7 2381.3 L417.1 2381.1 L418.5 2381 L419.8 2381 L421.2 2380.9 L422.5 2380.9 L423.9 2380.9 L425.3 2380.9 L426.6 2381 L428 2381 L429.3 2381.1 L430.7 2381.1 L432.1 2381.2 L433.4 2381.3 L434.8 2381.4 L436.1 2381.5 L437.5 2381.4 L438.9 2381.4 L440.2 2381.3 L441.6 2381.3 L442.9 2381.3 L444.3 2381.3 L445.7 2381.3 L447 2381.3 L448.4 2381.3 L449.7 2381.3 L451.1 2381.3 L452.5 2381.4 L453.8 2381.4 L455.2 2381.4 L456.5 2381.5 L457.9 2381.5 L1871.9 2381.7" fill="none" stroke="#00ff00" stroke-width="13.8" stroke-linejoin="round" stroke-linecap="butt" stroke-dasharray="56 14 28 14" stroke-dashoffset="8" clip-path="url(#cd)"/>
<path d="M290 2359 L290 2378 L291 2170 L292.6 2301.6 L294.2 2320.2 L295.9 2334.4 L297.5 2341.2 L298.9 2348.9 L300.5 2357.3 L301.9 2364.4 L303.5 2371.5 L305.6 2377.4 L307 2371.4 L308.3 2367.8 L309.6 2365.2 L310.9 2363.4 L312.2 2362.3 L313.6 2361.9 L314.9 2362.1 L316.2 2362.8 L317.5 2363.9 L318.9 2365.5 L320.2 2367.4 L321.5 2369.5 L322.8 2371.9 L324.1 2374.4 L325.5 2376.9 L326.8 2379.5 L328.2 2376 L329.5 2373.8 L330.9 2372.3 L332.3 2371.2 L333.6 2370.5 L335 2370.3 L336.4 2370.3 L337.8 2370.7 L339.1 2371.4 L340.5 2372.3 L341.9 2373.4 L343.2 2374.6 L344.6 2376 L346 2377.5 L347.4 2379 L348.7 2380.5 L350.1 2378.7 L351.4 2377.6 L352.8 2376.8 L354.1 2376.3 L355.5 2375.9 L356.8 2375.8 L358.2 2375.9 L359.5 2376.1 L360.9 2376.4 L362.2 2376.9 L363.6 2377.4 L364.9 2378.1 L366.2 2378.8 L367.6 2379.5 L368.9 2380.3 L370.3 2381.1 L371.6 2380.1 L373 2379.5 L374.4 2379.1 L375.7 2378.8 L377.1 2378.7 L378.4 2378.6 L379.8 2378.6 L381.2 2378.7 L382.5 2378.9 L383.9 2379.2 L385.2 2379.5 L386.6 2379.8 L388 2380.2 L389.3 2380.6 L390.7 2381 L392 2381.4 L393.4 2380.9 L394.8 2380.5 L396.1 2380.3 L397.5 2380.2 L398.8 2380.1 L400.2 2380 L401.6 2380 L402.9 2380.1 L404.3 2380.2 L405.6 2380.3 L407 2380.5 L408.4 2380.7 L409.7 2380.9 L411.1 2381.1 L412.4 2381.3 L413.8 2381.5 L415.2 2381.2 L416.5 2381.1 L417.9 2380.9 L419.2 2380.8 L420.6 2380.8 L421.9 2380.8 L423.3 2380.8 L424.7 2380.8 L426 2380.8 L427.4 2380.9 L428.7 2381 L430.1 2381.1 L431.5 2381.2 L432.8 2381.3 L434.2 2381.4 L435.5 2381.5 L436.9 2381.4 L438.2 2381.3 L439.5 2381.2 L440.9 2381.2 L442.2 2381.1 L443.6 2381.1 L444.9 2381.1 L446.2 2381.1 L447.6 2381.2 L448.9 2381.2 L450.2 2381.2 L451.6 2381.3 L452.9 2381.3 L454.2 2381.4 L455.6 2381.4 L456.9 2381.5 L1871.9 2381.7" fill="none" stroke="#ff00ff" stroke-width="13.8" stroke-linejoin="round" stroke-linecap="butt" stroke-dasharray="14 14" stroke-dashoffset="18" clip-path="url(#cd)"/>
<path d="M289.5 2359 L289.5 1555" fill="none" stroke="#ffff00" stroke-width="13.5"/>
<path d="M289.6 1570 L290.6 2100 L293.1 2301.6 L294.4 2319.7 L295.3 2333.4 L296.5 2344.8 L297 2351.6 L298.1 2360.7 L299.5 2369.9 L301.2 2376.7 L303.3 2380.6 L304.7 2376.1 L306 2373.4 L307.4 2371.4 L308.7 2370 L310.1 2369.1 L311.4 2368.7 L312.8 2368.8 L314.1 2369.3 L315.5 2370.1 L316.8 2371.2 L318.2 2372.5 L319.5 2374.1 L320.8 2375.7 L322.2 2377.5 L323.5 2379.4 L324.9 2381.3 L326.3 2378.9 L327.7 2377.4 L329 2376.3 L330.4 2375.6 L331.8 2375.1 L333.2 2374.9 L334.6 2374.9 L336 2375.2 L337.4 2375.6 L338.8 2376.2 L340.1 2376.9 L341.5 2377.7 L342.9 2378.6 L344.3 2379.5 L345.7 2380.5 L347.1 2381.5 L348.5 2380.1 L349.9 2379.3 L351.3 2378.7 L352.7 2378.3 L354.1 2378 L355.5 2377.9 L356.9 2377.9 L358.3 2378.1 L359.7 2378.3 L361.1 2378.7 L362.5 2379.1 L364 2379.6 L365.4 2380.1 L366.8 2380.6 L368.2 2381.2 L369.6 2381.8 L370.9 2381 L372.3 2380.6 L373.7 2380.2 L375 2380 L376.4 2379.8 L377.8 2379.8 L379.1 2379.8 L380.5 2379.9 L381.9 2380 L383.2 2380.2 L384.6 2380.4 L386 2380.6 L387.3 2380.9 L388.7 2381.2 L390.1 2381.5 L391.4 2381.8 L392.8 2381.4 L394.2 2381.2 L395.5 2381 L396.9 2380.9 L398.2 2380.8 L399.6 2380.8 L401 2380.8 L402.3 2380.8 L403.7 2380.9 L405 2381 L406.4 2381.1 L407.8 2381.2 L409.1 2381.4 L410.5 2381.5 L411.8 2381.7 L413.2 2381.9 L414.6 2381.6 L415.9 2381.5 L417.3 2381.4 L418.6 2381.3 L420 2381.3 L421.4 2381.3 L422.7 2381.3 L424.1 2381.3 L425.4 2381.3 L426.8 2381.4 L428.2 2381.4 L429.5 2381.5 L430.9 2381.6 L432.2 2381.7 L433.6 2381.8 L434.9 2381.9 L436.3 2381.7 L437.7 2381.7 L439 2381.6 L440.4 2381.5 L441.7 2381.5 L443.1 2381.5 L444.5 2381.5 L445.8 2381.5 L447.2 2381.5 L448.5 2381.6 L449.9 2381.6 L451.3 2381.7 L452.6 2381.7 L454 2381.8 L455.3 2381.8 L456.7 2381.9 L1871.9 2381.7" fill="none" stroke="#ffff00" stroke-width="13.8" stroke-linejoin="round" stroke-linecap="butt" clip-path="url(#cd)"/>
<rect x="454" y="1631" width="632.5" height="378.2" fill="#fff"/>
<line x1="518.7" y1="1631" x2="518.7" y2="2009.2" stroke="#e7e7e7" stroke-width="4.2"/>
<line x1="655.4" y1="1631" x2="655.4" y2="2009.2" stroke="#e7e7e7" stroke-width="4.2"/>
<line x1="792.1" y1="1631" x2="792.1" y2="2009.2" stroke="#e7e7e7" stroke-width="4.2"/>
<line x1="928.8" y1="1631" x2="928.8" y2="2009.2" stroke="#e7e7e7" stroke-width="4.2"/>
<line x1="1065.5" y1="1631" x2="1065.5" y2="2009.2" stroke="#e7e7e7" stroke-width="4.2"/>
<line x1="454" y1="1959.6" x2="1086.5" y2="1959.6" stroke="#e7e7e7" stroke-width="4.2"/>
<line x1="454" y1="1853.3" x2="1086.5" y2="1853.3" stroke="#e7e7e7" stroke-width="4.2"/>
<line x1="454" y1="1747" x2="1086.5" y2="1747" stroke="#e7e7e7" stroke-width="4.2"/>
<line x1="454" y1="1640.7" x2="1086.5" y2="1640.7" stroke="#e7e7e7" stroke-width="4.2"/>
<line x1="518.7" y1="1631" x2="518.7" y2="1640" stroke="#555" stroke-width="3.4"/>
<line x1="518.7" y1="2009.2" x2="518.7" y2="2000.2" stroke="#555" stroke-width="3.4"/>
<line x1="655.4" y1="1631" x2="655.4" y2="1640" stroke="#555" stroke-width="3.4"/>
<line x1="655.4" y1="2009.2" x2="655.4" y2="2000.2" stroke="#555" stroke-width="3.4"/>
<line x1="792.1" y1="1631" x2="792.1" y2="1640" stroke="#555" stroke-width="3.4"/>
<line x1="792.1" y1="2009.2" x2="792.1" y2="2000.2" stroke="#555" stroke-width="3.4"/>
<line x1="928.8" y1="1631" x2="928.8" y2="1640" stroke="#555" stroke-width="3.4"/>
<line x1="928.8" y1="2009.2" x2="928.8" y2="2000.2" stroke="#555" stroke-width="3.4"/>
<line x1="1065.5" y1="1631" x2="1065.5" y2="1640" stroke="#555" stroke-width="3.4"/>
<line x1="1065.5" y1="2009.2" x2="1065.5" y2="2000.2" stroke="#555" stroke-width="3.4"/>
<line x1="454" y1="1959.6" x2="463.5" y2="1959.6" stroke="#555" stroke-width="4.6"/>
<line x1="1086.5" y1="1959.6" x2="1077" y2="1959.6" stroke="#555" stroke-width="4.6"/>
<line x1="454" y1="1853.3" x2="463.5" y2="1853.3" stroke="#555" stroke-width="4.6"/>
<line x1="1086.5" y1="1853.3" x2="1077" y2="1853.3" stroke="#555" stroke-width="4.6"/>
<line x1="454" y1="1747" x2="463.5" y2="1747" stroke="#555" stroke-width="4.6"/>
<line x1="1086.5" y1="1747" x2="1077" y2="1747" stroke="#555" stroke-width="4.6"/>
<line x1="454" y1="1640.7" x2="463.5" y2="1640.7" stroke="#555" stroke-width="4.6"/>
<line x1="1086.5" y1="1640.7" x2="1077" y2="1640.7" stroke="#555" stroke-width="4.6"/>
<line x1="452.7" y1="1628.8" x2="452.7" y2="2011.3" stroke="#777" stroke-width="2.4"/>
<line x1="455" y1="1628.8" x2="455" y2="2011.3" stroke="#2a2a2a" stroke-width="2.4"/>
<line x1="451.5" y1="1631" x2="1088.6" y2="1631" stroke="#333" stroke-width="4.2"/>
<line x1="1086.5" y1="1628.8" x2="1086.5" y2="2011.3" stroke="#3a3a3a" stroke-width="4.2"/>
<line x1="451.5" y1="2009.2" x2="1088.6" y2="2009.2" stroke="#2a2a2a" stroke-width="4.2"/>
<text x="518.7" y="2104" font-size="76.5" text-anchor="middle" fill="#262626" stroke="#fff" stroke-width="1.3">0</text>
<text x="655.4" y="2104" font-size="76.5" text-anchor="middle" fill="#262626" stroke="#fff" stroke-width="1.3">2</text>
<text x="792.1" y="2104" font-size="76.5" text-anchor="middle" fill="#262626" stroke="#fff" stroke-width="1.3">4</text>
<text x="928.8" y="2104" font-size="76.5" text-anchor="middle" fill="#262626" stroke="#fff" stroke-width="1.3">6</text>
<text x="1065.5" y="2104" font-size="76.5" text-anchor="middle" fill="#262626" stroke="#fff" stroke-width="1.3">8</text>
<text x="423" y="1986.6" font-size="76.5" text-anchor="end" fill="#262626" stroke="#fff" stroke-width="1.3">0</text>
<text x="419" y="1880.3" font-size="76.5" text-anchor="end" fill="#262626" stroke="#fff" stroke-width="1.3" style="letter-spacing:-4px">0.5</text>
<text x="423" y="1774" font-size="76.5" text-anchor="end" fill="#262626" stroke="#fff" stroke-width="1.3">1</text>
<text x="419" y="1667.7" font-size="76.5" text-anchor="end" fill="#262626" stroke="#fff" stroke-width="1.3" style="letter-spacing:-4px">1.5</text>
<line x1="685.9" y1="2030" x2="685.9" y2="2125" stroke="#dedede" stroke-width="2.6" style="mix-blend-mode:multiply"/>
<line x1="1081.4" y1="2030" x2="1081.4" y2="2125" stroke="#e9e9e9" stroke-width="4.6" style="mix-blend-mode:multiply"/>
<line x1="1476.5" y1="2030" x2="1476.5" y2="2125" stroke="#dedede" stroke-width="2.7" style="mix-blend-mode:multiply"/>
<line x1="310" y1="2072.8" x2="1110" y2="2072.8" stroke="#dcdcdc" stroke-width="3.1" style="mix-blend-mode:multiply"/>
<line x1="310" y1="1764" x2="440" y2="1764" stroke="#e6e6e6" stroke-width="5.5" style="mix-blend-mode:multiply"/>
<defs><clipPath id="ci"><rect x="454" y="1628.5" width="635.7" height="378.2"/></clipPath></defs>
<path d="M524.3 1943.5 L524.3 1700" fill="none" stroke="#0000ff" stroke-width="16" stroke-linecap="round" clip-path="url(#ci)"/>
<path d="M522.3 1941 L522.3 1700" fill="none" stroke="#000000" stroke-width="15" stroke-dasharray="0 52 9 200" clip-path="url(#ci)"/>
<path d="M522.3 1942 L522.3 1700" fill="none" stroke="#00ff00" stroke-width="15.5" clip-path="url(#ci)"/>
<path d="M522.3 1942 L522.3 1700" fill="none" stroke="#ff00ff" stroke-width="15.5" stroke-dasharray="14 10.5 15 11 14 10" clip-path="url(#ci)"/>
<path d="M523 1640 L523.5 1660 L524.9 1683.2 L530.3 1747 L537.8 1795.9 L549.5 1846.9 L556.3 1870.9 L561.8 1886.5 L566.5 1902.2 L573.4 1934.1 L582.3 1953.2 L586.8 1927.9 L591.2 1912.2 L595.7 1900.8 L600.2 1892.7 L604.7 1887.7 L609.2 1885.4 L613.7 1885.6 L618.1 1887.9 L622.6 1892.2 L627.1 1898.1 L631.6 1905.4 L636.1 1913.9 L640.6 1923.1 L645.1 1932.9 L649.5 1943 L654 1953.2 L658.7 1938.8 L663.3 1929.9 L668 1923.5 L672.7 1919 L677.3 1916.2 L682 1915 L686.6 1915.3 L691.3 1916.7 L695.9 1919.3 L700.6 1922.9 L705.3 1927.2 L709.9 1932.2 L714.6 1937.6 L719.2 1943.4 L723.9 1949.4 L728.5 1955.3 L733.1 1948 L737.8 1943.4 L742.4 1940.1 L747 1937.8 L751.6 1936.4 L756.2 1935.8 L760.8 1935.9 L765.4 1936.7 L770.1 1938 L774.7 1939.8 L779.3 1942 L783.9 1944.6 L788.5 1947.4 L793.1 1950.3 L797.7 1953.4 L802.4 1956.4 L807.1 1952.6 L811.8 1950.3 L816.4 1948.6 L821.1 1947.5 L825.8 1946.7 L830.5 1946.4 L835.2 1946.5 L839.9 1946.9 L844.6 1947.6 L849.3 1948.5 L854 1949.7 L858.7 1951 L863.4 1952.4 L868.1 1953.9 L872.8 1955.5 L877.5 1957 L882.2 1955 L886.9 1953.7 L891.6 1952.7 L896.3 1952.1 L901 1951.7 L905.7 1951.5 L910.4 1951.6 L915.1 1951.8 L919.8 1952.2 L924.5 1952.7 L929.2 1953.3 L933.9 1954.1 L938.6 1954.9 L943.3 1955.7 L948 1956.6 L952.7 1957.5 L957.4 1956.4 L962.1 1955.7 L966.8 1955.2 L971.5 1954.8 L976.2 1954.6 L980.9 1954.5 L985.6 1954.5 L990.3 1954.6 L995 1954.8 L999.7 1955.1 L1004.4 1955.4 L1009.1 1955.8 L1013.8 1956.2 L1018.5 1956.6 L1023.2 1957 L1027.9 1957.5 L1032.4 1957 L1036.9 1956.7 L1041.4 1956.5 L1045.8 1956.3 L1050.3 1956.2 L1054.8 1956.2 L1059.3 1956.2 L1063.8 1956.2 L1068.3 1956.3 L1072.8 1956.4 L1077.2 1956.6 L1081.7 1956.7 L1086.2 1956.9 L1090.7 1957.1 L1095.2 1957.3 L1099.7 1957.5" fill="none" stroke="#0000ff" stroke-width="15" stroke-linejoin="round" stroke-linecap="butt" clip-path="url(#ci)"/>
<path d="M523 1640 L523.5 1660 L524.9 1683.2 L530.3 1747 L536.5 1795.9 L542.6 1825.7 L548.1 1853.3 L553.6 1883.1 L560.4 1908.6 L568.9 1926.6 L573.4 1915.1 L577.9 1908.3 L582.3 1903.5 L586.8 1900.5 L591.3 1899 L595.7 1898.7 L600.2 1899.8 L604.7 1901.8 L609.1 1904.9 L613.6 1908.7 L618 1913.3 L622.5 1918.4 L627 1923.9 L631.4 1929.6 L635.9 1935.6 L640.4 1941.5 L645.1 1933.9 L649.8 1929.4 L654.6 1926.1 L659.3 1924 L664.1 1922.7 L668.8 1922.3 L673.6 1922.7 L678.3 1923.8 L683 1925.4 L687.8 1927.6 L692.5 1930.3 L697.3 1933.2 L702 1936.4 L706.7 1939.8 L711.5 1943.3 L716.2 1946.8 L720.9 1943.4 L725.5 1941.4 L730.2 1940 L734.9 1939.1 L739.5 1938.7 L744.2 1938.7 L748.8 1939 L753.5 1939.7 L758.1 1940.7 L762.8 1941.9 L767.5 1943.3 L772.1 1944.9 L776.8 1946.6 L781.4 1948.4 L786.1 1950.3 L790.7 1952.2 L795.4 1950.3 L800.1 1949.3 L804.8 1948.5 L809.5 1948.1 L814.2 1947.9 L818.9 1947.9 L823.6 1948 L828.3 1948.4 L833 1948.9 L837.7 1949.5 L842.4 1950.3 L847.1 1951.1 L851.8 1952 L856.5 1953 L861.2 1953.9 L865.9 1954.9 L870.6 1954 L875.3 1953.5 L880 1953.1 L884.7 1952.9 L889.4 1952.8 L894.1 1952.8 L898.8 1952.9 L903.5 1953.1 L908.2 1953.3 L912.9 1953.6 L917.6 1954 L922.3 1954.5 L927 1954.9 L931.7 1955.4 L936.4 1955.9 L941.1 1956.4 L945.8 1956 L950.5 1955.7 L955.2 1955.5 L959.9 1955.4 L964.6 1955.3 L969.3 1955.3 L974 1955.4 L978.7 1955.5 L983.4 1955.6 L988.1 1955.7 L992.8 1955.9 L997.5 1956.1 L1002.2 1956.3 L1006.9 1956.6 L1011.6 1956.8 L1016.3 1957 L1021.1 1956.9 L1025.9 1956.7 L1030.6 1956.7 L1035.4 1956.6 L1040.2 1956.6 L1045 1956.6 L1049.8 1956.6 L1054.6 1956.7 L1059.3 1956.8 L1064.1 1956.8 L1068.9 1956.9 L1073.7 1957 L1078.5 1957.1 L1083.3 1957.2 L1088.1 1957.4 L1092.8 1957.5" fill="none" stroke="#000000" stroke-width="15" stroke-linejoin="round" stroke-linecap="butt" stroke-dasharray="56 55" stroke-dashoffset="40" clip-path="url(#ci)"/>
<path d="M523 1640 L523.5 1660 L524.9 1683.2 L530.3 1747 L536.5 1795.9 L541.9 1823.5 L547.4 1853.3 L552.9 1883.1 L557.7 1906.4 L563.1 1929.8 L569.3 1946.8 L573.9 1929.3 L578.5 1918.6 L583.1 1910.8 L587.7 1905.5 L592.3 1902.4 L597 1901.1 L601.6 1901.6 L606.2 1903.7 L610.8 1907.1 L615.4 1911.8 L620 1917.3 L624.6 1923.7 L629.3 1930.7 L633.9 1938 L638.5 1945.6 L643.1 1953.2 L647.9 1942.7 L652.7 1936.3 L657.5 1931.7 L662.2 1928.4 L667 1926.5 L671.8 1925.6 L676.6 1925.8 L681.4 1926.9 L686.2 1928.9 L690.9 1931.5 L695.7 1934.7 L700.5 1938.3 L705.3 1942.3 L710.1 1946.6 L714.9 1950.9 L719.6 1955.3 L724.4 1949.8 L729.1 1946.4 L733.9 1944 L738.6 1942.3 L743.4 1941.3 L748.1 1940.9 L752.8 1941 L757.6 1941.7 L762.3 1942.7 L767.1 1944.2 L771.8 1945.9 L776.6 1947.9 L781.3 1950 L786 1952.3 L790.8 1954.7 L795.5 1957 L800.2 1954.2 L804.9 1952.4 L809.6 1951.1 L814.3 1950.2 L819 1949.6 L823.7 1949.4 L828.4 1949.5 L833.1 1949.8 L837.8 1950.3 L842.5 1951 L847.2 1951.8 L851.9 1952.8 L856.6 1953.9 L861.3 1955.1 L866 1956.3 L870.7 1957.5 L875.4 1956 L880.1 1955.1 L884.8 1954.5 L889.5 1954 L894.2 1953.8 L898.9 1953.6 L903.6 1953.7 L908.3 1953.9 L913 1954.1 L917.7 1954.5 L922.4 1955 L927.1 1955.5 L931.8 1956 L936.5 1956.7 L941.2 1957.3 L945.9 1957.9 L950.6 1957.1 L955.3 1956.6 L960 1956.3 L964.7 1956 L969.4 1955.9 L974.1 1955.8 L978.8 1955.8 L983.5 1955.9 L988.2 1956 L992.9 1956.2 L997.6 1956.4 L1002.3 1956.7 L1007 1957 L1011.7 1957.3 L1016.4 1957.6 L1021.1 1957.9 L1025.8 1957.6 L1030.5 1957.4 L1035.2 1957.2 L1039.9 1957.1 L1044.6 1957.1 L1049.3 1957.1 L1054 1957.1 L1058.7 1957.1 L1063.4 1957.1 L1068.1 1957.2 L1072.8 1957.3 L1077.5 1957.4 L1082.2 1957.5 L1086.9 1957.6 L1091.6 1957.8 L1096.3 1957.9" fill="none" stroke="#00ff00" stroke-width="15" stroke-linejoin="round" stroke-linecap="butt" stroke-dasharray="56 14 28 14" stroke-dashoffset="8" clip-path="url(#ci)"/>
<path d="M523 1640 L523.5 1660 L524.9 1683.2 L530.3 1747 L536.5 1795.9 L541.9 1819.3 L546.7 1845.6 L552.2 1874.6 L557 1899 L562.4 1923.5 L570 1943.7 L574.5 1923.2 L579.1 1910.8 L583.7 1901.8 L588.2 1895.6 L592.8 1891.9 L597.4 1890.5 L602 1891.1 L606.5 1893.5 L611.1 1897.5 L615.7 1902.9 L620.2 1909.4 L624.8 1916.8 L629.4 1924.9 L634 1933.4 L638.5 1942.2 L643.1 1951.1 L647.8 1938.9 L652.6 1931.5 L657.3 1926.1 L662.1 1922.4 L666.8 1920.2 L671.5 1919.2 L676.3 1919.5 L681 1920.9 L685.8 1923.1 L690.5 1926.2 L695.3 1930 L700 1934.3 L704.7 1939 L709.5 1944 L714.2 1949.1 L719 1954.3 L723.6 1948.2 L728.3 1944.4 L732.9 1941.7 L737.6 1939.9 L742.2 1938.8 L746.9 1938.3 L751.6 1938.5 L756.2 1939.2 L760.9 1940.4 L765.5 1942 L770.2 1944 L774.8 1946.2 L779.5 1948.6 L784.2 1951.1 L788.8 1953.8 L793.5 1956.4 L798.2 1953.1 L802.9 1951.2 L807.6 1949.7 L812.3 1948.7 L817 1948.1 L821.7 1947.9 L826.4 1948 L831.1 1948.4 L835.8 1949 L840.5 1949.8 L845.2 1950.9 L849.9 1952 L854.6 1953.3 L859.3 1954.7 L864 1956.1 L868.7 1957.5 L873.4 1955.7 L878.1 1954.6 L882.7 1953.8 L887.4 1953.3 L892.1 1952.9 L896.8 1952.8 L901.5 1952.8 L906.2 1953 L910.9 1953.4 L915.6 1953.8 L920.3 1954.4 L925 1955 L929.7 1955.7 L934.4 1956.4 L939.1 1957.1 L943.8 1957.9 L948.5 1956.9 L953.2 1956.4 L957.9 1955.9 L962.6 1955.6 L967.3 1955.4 L972 1955.4 L976.7 1955.4 L981.4 1955.5 L986.1 1955.6 L990.8 1955.8 L995.5 1956.1 L1000.2 1956.4 L1004.9 1956.8 L1009.6 1957.1 L1014.3 1957.5 L1019 1957.9 L1023.6 1957.4 L1028.2 1957.1 L1032.9 1956.9 L1037.5 1956.8 L1042.1 1956.7 L1046.7 1956.6 L1051.3 1956.6 L1055.9 1956.7 L1060.5 1956.8 L1065.2 1956.9 L1069.8 1957 L1074.4 1957.2 L1079 1957.3 L1083.6 1957.5 L1088.2 1957.7 L1092.8 1957.9" fill="none" stroke="#ff00ff" stroke-width="15" stroke-linejoin="round" stroke-linecap="butt" stroke-dasharray="14 14" stroke-dashoffset="4" clip-path="url(#ci)"/>
<path d="M520.6 1877 L520.6 1620" fill="none" stroke="#ffff00" stroke-width="13.8" clip-path="url(#ci)"/>
<path d="M521 1600 L523 1660 L527.2 1683.2 L532 1745.5 L535 1792.5 L539.2 1831.6 L540.9 1855 L544.6 1886.5 L549.3 1917.9 L555.3 1941.3 L562.7 1954.9 L567.4 1939.4 L572 1929.9 L576.7 1923 L581.3 1918.2 L586 1915.3 L590.7 1914 L595.3 1914.2 L600 1915.8 L604.6 1918.6 L609.3 1922.3 L613.9 1927 L618.6 1932.3 L623.2 1938.1 L627.9 1944.3 L632.6 1950.6 L637.2 1957 L642 1948.8 L646.8 1943.8 L651.6 1940.1 L656.4 1937.5 L661.2 1935.9 L666 1935.2 L670.8 1935.3 L675.6 1936.1 L680.4 1937.6 L685.1 1939.6 L689.9 1942 L694.7 1944.8 L699.5 1947.9 L704.3 1951.2 L709.1 1954.5 L713.9 1957.9 L718.8 1953.2 L723.6 1950.4 L728.5 1948.3 L733.4 1946.8 L738.2 1946 L743.1 1945.6 L747.9 1945.7 L752.8 1946.2 L757.7 1947 L762.5 1948.2 L767.4 1949.6 L772.2 1951.2 L777.1 1953 L782 1954.9 L786.8 1956.8 L791.7 1958.7 L796.4 1956.2 L801.1 1954.6 L805.9 1953.5 L810.6 1952.7 L815.3 1952.2 L820 1952 L824.8 1952 L829.5 1952.2 L834.2 1952.7 L838.9 1953.3 L843.7 1954.1 L848.4 1954.9 L853.1 1955.9 L857.8 1956.9 L862.6 1957.9 L867.3 1959 L872 1957.6 L876.7 1956.8 L881.4 1956.2 L886.1 1955.7 L890.8 1955.5 L895.5 1955.4 L900.2 1955.4 L904.9 1955.5 L909.6 1955.8 L914.3 1956.1 L919 1956.5 L923.7 1957 L928.4 1957.5 L933.1 1958 L937.8 1958.6 L942.5 1959.2 L947.2 1958.4 L951.9 1957.9 L956.6 1957.5 L961.3 1957.3 L966 1957.1 L970.7 1957.1 L975.4 1957.1 L980.1 1957.1 L984.8 1957.3 L989.5 1957.5 L994.2 1957.7 L998.9 1957.9 L1003.6 1958.2 L1008.3 1958.5 L1013 1958.9 L1017.7 1959.2 L1022.4 1958.7 L1027.1 1958.4 L1031.8 1958.2 L1036.5 1958 L1041.2 1957.9 L1045.8 1957.9 L1050.5 1957.9 L1055.2 1958 L1059.9 1958 L1064.6 1958.1 L1069.3 1958.3 L1074 1958.4 L1078.7 1958.6 L1083.4 1958.8 L1088.1 1959 L1092.8 1959.2" fill="none" stroke="#ffff00" stroke-width="16" stroke-linejoin="round" stroke-linecap="butt" clip-path="url(#ci)"/>
<rect x="1317.5" y="1527" width="482" height="410" fill="#fff" stroke="#1f1f1f" stroke-width="3"/>
<line x1="1339.3" y1="1575.2" x2="1502.4" y2="1575.2" stroke="#0000ff" stroke-width="13.4"/>
<text x="1518" y="1598.7" font-size="64" text-anchor="start" fill="#000" stroke="#fff" stroke-width="0.9">robot1-1d</text>
<line x1="1339.3" y1="1653" x2="1396.3" y2="1653" stroke="#000000" stroke-width="15.7"/>
<line x1="1450.4" y1="1653" x2="1502.4" y2="1653" stroke="#000000" stroke-width="15.7"/>
<text x="1518" y="1676.5" font-size="64" text-anchor="start" fill="#000" stroke="#fff" stroke-width="0.9">robot2-2d</text>
<line x1="1339.3" y1="1731.7" x2="1396.3" y2="1731.7" stroke="#00ff00" stroke-width="15.9"/>
<line x1="1409.3" y1="1731.7" x2="1437.8" y2="1731.7" stroke="#00ff00" stroke-width="15.9"/>
<line x1="1450.4" y1="1731.7" x2="1502.4" y2="1731.7" stroke="#00ff00" stroke-width="15.9"/>
<text x="1518" y="1755.2" font-size="64" text-anchor="start" fill="#000" stroke="#fff" stroke-width="0.9">robot3-3d</text>
<line x1="1339.3" y1="1809.5" x2="1353.5" y2="1809.5" stroke="#ff00ff" stroke-width="14.4"/>
<line x1="1367" y1="1809.5" x2="1381.2" y2="1809.5" stroke="#ff00ff" stroke-width="14.4"/>
<line x1="1394.8" y1="1809.5" x2="1409" y2="1809.5" stroke="#ff00ff" stroke-width="14.4"/>
<line x1="1422.5" y1="1809.5" x2="1436.8" y2="1809.5" stroke="#ff00ff" stroke-width="14.4"/>
<line x1="1450.3" y1="1809.5" x2="1464.5" y2="1809.5" stroke="#ff00ff" stroke-width="14.4"/>
<line x1="1478" y1="1809.5" x2="1492.2" y2="1809.5" stroke="#ff00ff" stroke-width="14.4"/>
<text x="1518" y="1833" font-size="64" text-anchor="start" fill="#000" stroke="#fff" stroke-width="0.9">robot4-4d</text>
<line x1="1339.3" y1="1887.8" x2="1502.4" y2="1887.8" stroke="#ffff00" stroke-width="13.2"/>
<text x="1518" y="1911.3" font-size="64" text-anchor="start" fill="#000" stroke="#fff" stroke-width="0.9">robot5-5d</text>
</g>
</svg>
</body></html>
